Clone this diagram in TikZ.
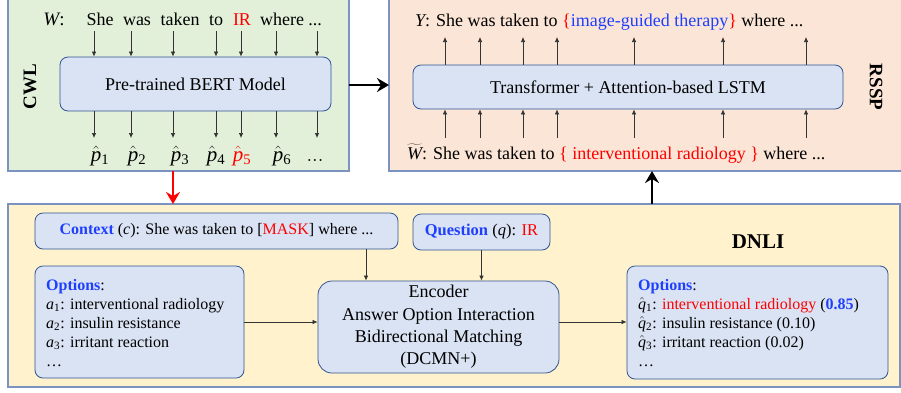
\documentclass[tikz,border=0pt]{standalone}
\usepackage{fontspec}
\setmainfont{Liberation Serif}
\usetikzlibrary{arrows.meta,calc}
\definecolor{cwlfill}{HTML}{E2F0D9}
\definecolor{rsspfill}{HTML}{FBE5D6}
\definecolor{dnlifill}{HTML}{FFF2CC}
\definecolor{outerline}{HTML}{7C93C0}
\definecolor{boxfill}{HTML}{DAE3F3}
\definecolor{boxline}{HTML}{2F5597}
\definecolor{bluetxt}{HTML}{1F3FFF}
\definecolor{redtxt}{HTML}{FF0000}
\newcommand{\mydots}{...}
\newcommand{\ph}[1]{\hat{\mathit{p}}_{\mathrm{#1}}}
\tikzset{
  outerbox/.style={draw=outerline,line width=1.2pt},
  innerbox/.style={draw=boxline,line width=0.8pt,fill=boxfill,rounded corners=8pt},
  thinarr/.style={draw=black!80,line width=0.7pt,-{Latex[length=5pt,width=4.5pt]}},
  thickarr/.style={draw=black,line width=2.8pt,-{Stealth[length=12pt,width=14pt,inset=4pt]}},
  redarr/.style={draw=redtxt,line width=2.8pt,-{Stealth[length=12pt,width=14pt,inset=4pt]}},
  wtxt/.style={font=\rmfamily\fontsize{18}{21}\selectfont,inner sep=0pt,anchor=base},
  optxt/.style={font=\rmfamily\fontsize{16}{19}\selectfont,inner sep=0pt},
  lbl/.style={font=\rmfamily\fontsize{19}{22}\selectfont\bfseries,inner sep=0pt},
}
\begin{document}
\begin{tikzpicture}[x=1pt,y=-1pt]
\useasboundingbox (0,0) rectangle (901,392);
% outer panels
\path[outerbox,fill=cwlfill] (8,-5) rectangle (349,171);
\path[outerbox,fill=rsspfill] (389,-5) rectangle (910,171);
\path[outerbox,fill=dnlifill] (8,204) rectangle (900,387);
\coordinate (cwl) at (349,85);
\coordinate (rssp) at (389,85);
\node[lbl,rotate=90] (cwllbl) at (30,87) {CWL};
\node[lbl,rotate=-90] (rssplbl) at (876,87) {RSSP};
\node[lbl,font=\rmfamily\fontsize{21}{24}\selectfont\bfseries] (dnlilbl) at (758,242) {DNLI};

% ---------- CWL ----------
\node[innerbox,minimum width=271pt,minimum height=54pt,font=\rmfamily\fontsize{18}{21}\selectfont] (bert) at (195.5,84) {Pre-trained BERT Model};
\node[wtxt,font=\rmfamily\fontsize{19}{21}\selectfont] (wlab) at (54,25) {$\mathit{W}$:};
\foreach \t/\xw/\xa/\pp [count=\i] in {She/100/94/{\ph1},was/137/131/{\ph2},taken/180/173/{\ph3},to/216/216/{\ph4},{\textcolor{redtxt}{IR}}/242/241/{\color{redtxt}\ph5},where/282/276/{\ph6},{\mydots}/315/317/{\mathrm{\mydots}}}{
  \node[wtxt] (w\i) at (\xw,25) {\t};
  \node[wtxt,font=\rmfamily\fontsize{21}{23}\selectfont] (p\i) at (\xw,161) {$\pp$};
  \draw[thinarr] (\xa,31) -- (\xa,0 |- bert.north);
  \draw[thinarr] (\xa,0 |- bert.south) -- (\xa,138);
}

% ---------- RSSP ----------
\node[innerbox,minimum width=430pt,minimum height=44pt,font=\rmfamily\fontsize{18}{21}\selectfont] (trans) at (628,87) {Transformer + Attention-based LSTM};
\node[wtxt,anchor=base west] (yline) at (415,26) {$\mathit{Y}$: She was taken to \textcolor{redtxt}{\{}\textcolor{bluetxt}{image-guided therapy}\textcolor{redtxt}{\}} where ...};
\node[wtxt,anchor=base west] (wtline) at (407,159) {$\widetilde{\mathit{W}}$: She was taken to \textcolor{redtxt}{\{ interventional radiology \}} where ...};
\foreach \xa in {445,480,523,557,634,723,806}{
  \draw[thinarr] (\xa,0 |- trans.north) -- (\xa,37);
  \draw[thinarr] (\xa,138) -- (\xa,0 |- trans.south);
}

% ---------- DNLI ----------
\node[innerbox,minimum width=363pt,minimum height=36pt,optxt] (ctx) at (216.5,231) {\textcolor{bluetxt}{\textbf{Context}} ($\mathit{c}$): She was taken to [\textcolor{redtxt}{MASK}] where ...};
\node[innerbox,minimum width=137pt,minimum height=36pt,optxt,font=\rmfamily\fontsize{16.5}{19}\selectfont] (qst) at (481.5,232) {\textcolor{bluetxt}{\textbf{Question}} ($\mathit{q}$): \textcolor{redtxt}{IR}};
\node[innerbox,minimum width=209pt,minimum height=112pt] (optl) at (139.5,322) {};
\node[optxt,anchor=north west,align=left] (optltxt) at (46,279) {\textcolor{bluetxt}{\textbf{Options}}:\\ $\mathit{a}_{\mathrm{1}}$: interventional radiology\\ $\mathit{a}_{\mathrm{2}}$: insulin resistance\\ $\mathit{a}_{\mathrm{3}}$: irritant reaction\\ \ldots};
\node[innerbox,minimum width=241pt,minimum height=92pt,align=center,font=\rmfamily\fontsize{18}{22.3}\selectfont,rounded corners=14pt] (enc) at (438.5,327) {Encoder\\ Answer Option Interaction\\ Bidirectional Matching\\ (DCMN+)};
\node[innerbox,minimum width=261pt,minimum height=113pt] (optr) at (757.5,322.5) {};
\node[optxt,anchor=north west,align=left] (optrtxt) at (638,279) {\textcolor{bluetxt}{\textbf{Options}}:\\ $\hat{\mathit{q}}_{\mathrm{1}}$: \textcolor{redtxt}{interventional radiology} (\textcolor{bluetxt}{\textbf{0.85}})\\ $\hat{\mathit{q}}_{\mathrm{2}}$: insulin resistance (0.10)\\ $\hat{\mathit{q}}_{\mathrm{3}}$: irritant reaction (0.02)\\ \ldots};

\draw[thinarr] (366,0 |- ctx.south) -- (366,0 |- enc.north);
\draw[thinarr] (qst.south) -- (qst.south |- enc.north);
\draw[thinarr] (optl.east |- 0,322) -- (enc.west |- 0,322);
\draw[thinarr] (enc.east |- 0,322) -- (optr.west |- 0,322);

% panel connectors
\draw[thickarr] (cwl) -- (rssp);
\coordinate (cwlb) at (173,171);
\coordinate (dnlit) at (173,204);
\draw[redarr] (cwlb) -- (dnlit);
\coordinate (dnlit2) at (652,204);
\coordinate (rsspb) at (652,171);
\draw[thickarr] (dnlit2) -- (rsspb);
\end{tikzpicture}
\end{document}
